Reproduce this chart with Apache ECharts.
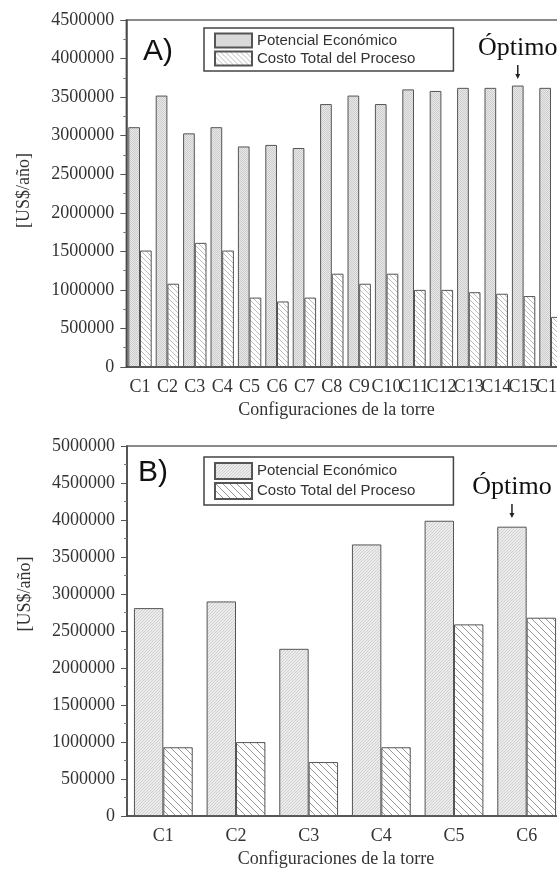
<!DOCTYPE html>
<html>
<head>
<meta charset="utf-8">
<script src="https://cdn.jsdelivr.net/npm/echarts@6/dist/echarts.min.js"></script>
<style>
  html, body { margin: 0; padding: 0; background: #fff; overflow: hidden; }
  #chartA { position: absolute; left: 0; top: 0; width: 580px; height: 437px; }
  #chartB { position: absolute; left: 0; top: 437px; width: 580px; height: 436px; }
</style>
</head>
<body>
<div id="chartA"></div>
<div id="chartB"></div>
<script>
// panel A
const catsA = ['C1', 'C2', 'C3', 'C4', 'C5', 'C6', 'C7', 'C8', 'C9', 'C10', 'C11', 'C12', 'C13', 'C14', 'C15', 'C16']
const potencialA = [3110000, 3520000, 3030000, 3110000, 2860000, 2880000, 2840000, 3410000, 3520000, 3410000, 3600000, 3580000, 3620000, 3620000, 3650000, 3620000]
const costoA = [1510000, 1080000, 1610000, 1510000, 900000, 850000, 900000, 1210000, 1080000, 1210000, 1000000, 1000000, 970000, 950000, 920000, 650000]

// panel B
const catsB = ['C1', 'C2', 'C3', 'C4', 'C5', 'C6']
const potencialB = [2810000, 2900000, 2260000, 3670000, 3990000, 3910000]
const costoB = [930000, 1000000, 730000, 930000, 2590000, 2680000]

const serif = '"Liberation Serif", "Times New Roman", serif'
const sans = '"Liberation Sans", Arial, sans-serif'

// fill patterns like the Origin ones
function hatch(bg, line, step, dir, lw) {
  const c = document.createElement('canvas')
  c.width = c.height = step
  const g = c.getContext('2d')
  g.fillStyle = bg
  g.fillRect(0, 0, step, step)
  g.strokeStyle = line
  g.lineWidth = lw
  g.beginPath()
  for (const k of [-step, 0, step]) {
    if (dir === '\\') { g.moveTo(k, 0); g.lineTo(k + step, step) }
    else { g.moveTo(k + step, 0); g.lineTo(k, step) }
  }
  g.stroke()
  return { image: c, repeat: 'repeat' }
}

function dots(bg, dot, step) {
  const c = document.createElement('canvas')
  c.width = c.height = step
  const g = c.getContext('2d')
  g.fillStyle = bg
  g.fillRect(0, 0, step, step)
  g.fillStyle = dot
  g.fillRect(0, 0, 1, 1)
  g.fillRect(step / 2, step / 2, 1, 1)
  return { image: c, repeat: 'repeat' }
}

function baseOption(o) {
  return {
    animation: false,
    grid: {
      left: o.left, top: o.top, width: o.width, height: o.height,
      show: true, borderColor: '#666', borderWidth: 1.5
    },
    legend: {
      orient: 'vertical',
      left: 204, top: o.legendTop,
      icon: 'rect',
      itemWidth: 37, itemHeight: o.itemH, itemGap: o.itemGap,
      padding: [o.legendPad, 38, o.legendPad, 10],
      borderColor: '#444', borderWidth: 1.5,
      textStyle: { fontFamily: sans, fontSize: 15, lineHeight: 17, color: '#333' },
      selectedMode: false
    },
    xAxis: [{
      type: 'category',
      data: o.cats,
      name: 'Configuraciones de la torre',
      nameLocation: 'middle',
      nameGap: o.nameGapX,
      nameTextStyle: { fontFamily: serif, fontSize: 18, color: '#333', padding: [0, 18, 0, 0] },
      axisLine: { lineStyle: { color: '#444', width: 1.5 } },
      axisTick: { alignWithLabel: true, length: 5, lineStyle: { color: '#555' } },
      axisLabel: { interval: 0, hideOverlap: false, margin: 11, fontFamily: serif, fontSize: 18, color: '#333' }
    }],
    yAxis: {
      type: 'value',
      min: 0, max: o.max, interval: 500000,
      name: '[US$/año]',
      nameLocation: 'middle',
      nameRotate: 90,
      nameGap: 93,
      nameTextStyle: { fontFamily: serif, fontSize: 18, color: '#333', padding: o.yNamePad },
      axisLine: { show: true, lineStyle: { color: '#444', width: 1.5 } },
      axisTick: { show: true, length: 6, lineStyle: { color: '#555' } },
      minorTick: { show: true, splitNumber: 2, length: 3, lineStyle: { color: '#777' } },
      splitLine: { show: false },
      axisLabel: { margin: 12, fontFamily: serif, fontSize: 18, color: '#333', formatter: v => String(v) }
    },
    series: [
      {
        name: 'Potencial Económico',
        type: 'bar',
        data: o.pot,
        barWidth: o.barW,
        barGap: '0%',
        itemStyle: { color: o.potFill, borderColor: '#555', borderWidth: 1 }
      },
      {
        name: 'Costo Total del Proceso',
        type: 'bar',
        data: o.cost,
        barWidth: o.barW,
        itemStyle: { color: o.costFill, borderColor: '#555', borderWidth: 1 }
      }
    ]
  }
}

function addLabels(chart, panel, cat, barW, top) {
  const x = chart.convertToPixel({ xAxisIndex: 0 }, cat) - barW / 2
  chart.setOption({
    graphic: [
      { type: 'text', left: panel.x, top: panel.y,
        style: { text: panel.text, font: '30px ' + sans, fill: '#111' } },
      { type: 'text', x: x, y: top,
        style: { text: 'Óptimo', font: '26px ' + serif, fill: '#111', align: 'center', verticalAlign: 'middle' } },
      { type: 'line', shape: { x1: x, y1: top + 17, x2: x, y2: top + 28 },
        style: { stroke: '#222', lineWidth: 1.5 } },
      { type: 'polygon', shape: { points: [[x - 2.5, top + 26], [x + 2.5, top + 26], [x, top + 31]] },
        style: { fill: '#222' } }
    ]
  })
}

const barWA = 11.7
const chartA = echarts.init(document.getElementById('chartA'))
chartA.setOption(baseOption({
  left: 126.3, top: 20, width: 438.4, height: 347,
  legendTop: 28, itemH: 14, itemGap: 1, legendPad: 4,
  cats: catsA, pot: potencialA, cost: costoA, max: 4500000,
  nameGapX: 32, yNamePad: [0, 0, 0, 6],
  barW: barWA,
  potFill: dots('#e8e8e8', '#cdcdcd', 2),
  costFill: hatch('#ffffff', '#bcbcbc', 5, '\\', 1)
}))
addLabels(chartA, { x: 143, y: 37, text: 'A)' }, 'C15', barWA, 48)

const barWB = 29.4
const chartB = echarts.init(document.getElementById('chartB'))
const optB = baseOption({
  left: 127, top: 9, width: 436, height: 377,
  legendTop: 20, itemH: 16, itemGap: 2, legendPad: 5,
  cats: catsB, pot: potencialB, cost: costoB, max: 5000000,
  nameGapX: 33, yNamePad: [0, 0, 0, 74],
  barW: barWB,
  potFill: hatch('#ebebeb', '#cacaca', 3, '/', 0.8),
  costFill: hatch('#ffffff', '#999999', 7, '\\', 1)
})
// minor ticks on category boundaries
optB.xAxis.push({
  type: 'category', data: catsB, position: 'bottom', gridIndex: 0,
  axisLine: { show: false }, axisLabel: { show: false },
  axisTick: { alignWithLabel: false, length: 3, lineStyle: { color: '#777' } }
})
chartB.setOption(optB)
addLabels(chartB, { x: 138, y: 21, text: 'B)' }, 'C6', barWB, 50)
</script>
</body>
</html>
